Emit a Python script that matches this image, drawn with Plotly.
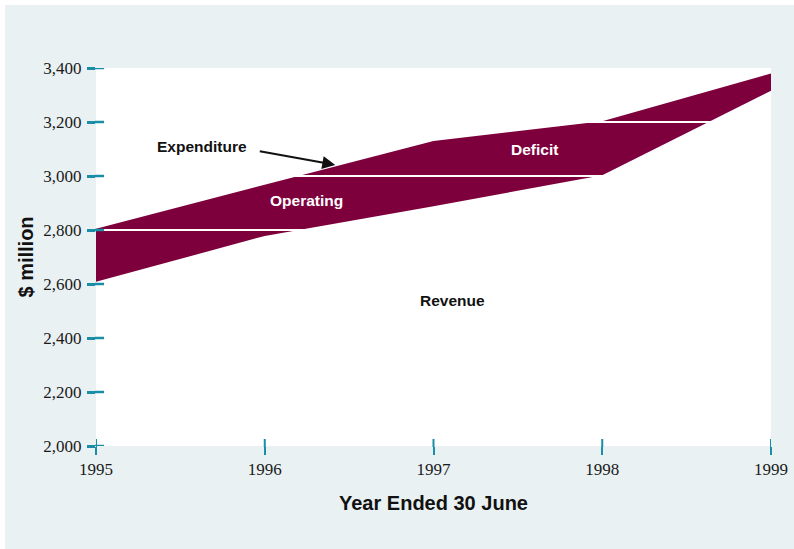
import plotly.graph_objects as go

years = [1995, 1996, 1997, 1998, 1999]
revenue = [2608, 2778, 2888, 3003, 3316]
expenditure = [2805, 2968, 3130, 3203, 3380]
y_ticks = [2000, 2200, 2400, 2600, 2800, 3000, 3200, 3400]
x_ticks = [1995, 1996, 1997, 1998, 1999]

MAROON = "#7d003c"
TEAL = "#1a8ea6"
BG = "#e9f1f3"

fig = go.Figure()
fig.add_trace(go.Scatter(x=years, y=revenue, mode="lines", line=dict(width=0, color=MAROON),
                         name="Revenue", showlegend=False, hoverinfo="skip"))
fig.add_trace(go.Scatter(x=years, y=expenditure, mode="lines", line=dict(width=0, color=MAROON),
                         fill="tonexty", fillcolor=MAROON, name="Expenditure", showlegend=False))

serif = dict(family="Liberation Serif", size=17, color="#1a1a1a")
common = dict(zeroline=False, showline=False, automargin=False, showgrid=False)
fig.update_layout(
    width=794, height=549,
    margin=dict(l=96, r=23, t=68, b=103),
    paper_bgcolor=BG, plot_bgcolor="white",
    xaxis=dict(range=[1995, 1999], tickvals=x_ticks, tickformat="d", ticks="outside", ticklen=8,
               tickwidth=2, tickcolor=TEAL, tickfont=serif, **common,
               title=dict(text="<b>Year Ended 30 June</b>", standoff=17,
                          font=dict(family="Liberation Sans", size=20, color="#111"))),
    yaxis=dict(range=[2000, 3400], tickvals=y_ticks, tickformat=",", ticks="outside", ticklen=8,
               tickwidth=2.5, tickcolor=TEAL, tickfont=serif, ticklabelstandoff=2, **common,
               title=dict(text="<b>$ million</b>", standoff=4,
                          font=dict(family="Liberation Sans", size=20, color="#111"))),
    showlegend=False,
)

# white grid lines drawn over the band (only visible where it is filled)
for v in y_ticks[1:-1]:
    fig.add_shape(type="line", xref="paper", yref="y", x0=0, x1=1, y0=v, y1=v,
                  line=dict(color="white", width=2), layer="above")

# inner halves of the tick marks (ticks cross the axis)
for v in y_ticks:
    fig.add_shape(type="line", xref="paper", xsizemode="pixel", xanchor=0, x0=-1, x1=8,
                  yref="y", y0=v, y1=v, line=dict(color=TEAL, width=2.5), layer="above")
for v in x_ticks:
    fig.add_shape(type="line", yref="paper", ysizemode="pixel", yanchor=0, y0=-1, y1=7,
                  xref="x", x0=v, x1=v, line=dict(color=TEAL, width=2), layer="above")

# thin white border at top and left of the page
fig.add_shape(type="rect", xref="paper", yref="paper", x0=-96/675, x1=(820-96)/675,
              y0=-(580-446)/378, y1=446/378, line=dict(color="white", width=10),
              fillcolor="rgba(0,0,0,0)", layer="above")

bold = dict(family="Liberation Sans", size=15.5)
fig.add_annotation(x=1996.25, y=2908, text="<b>Operating</b>", showarrow=False,
                   font=dict(**bold, color="white"))
fig.add_annotation(x=1997.6, y=3097, text="<b>Deficit</b>", showarrow=False,
                   font=dict(**bold, color="white"))
fig.add_annotation(x=1997.11, y=2540, text="<b>Revenue</b>", showarrow=False,
                   font=dict(**bold, color="#111"))
fig.add_annotation(x=1995.63, y=3110, text="<b>Expenditure</b>", showarrow=False,
                   font=dict(**bold, color="#111"))
fig.add_annotation(x=1996.418, y=3041, text="", showarrow=True, ax=-77, ay=-14,
                   arrowhead=2, arrowsize=1.3, arrowwidth=2, arrowcolor="#111")

fig.write_html("out.html")
